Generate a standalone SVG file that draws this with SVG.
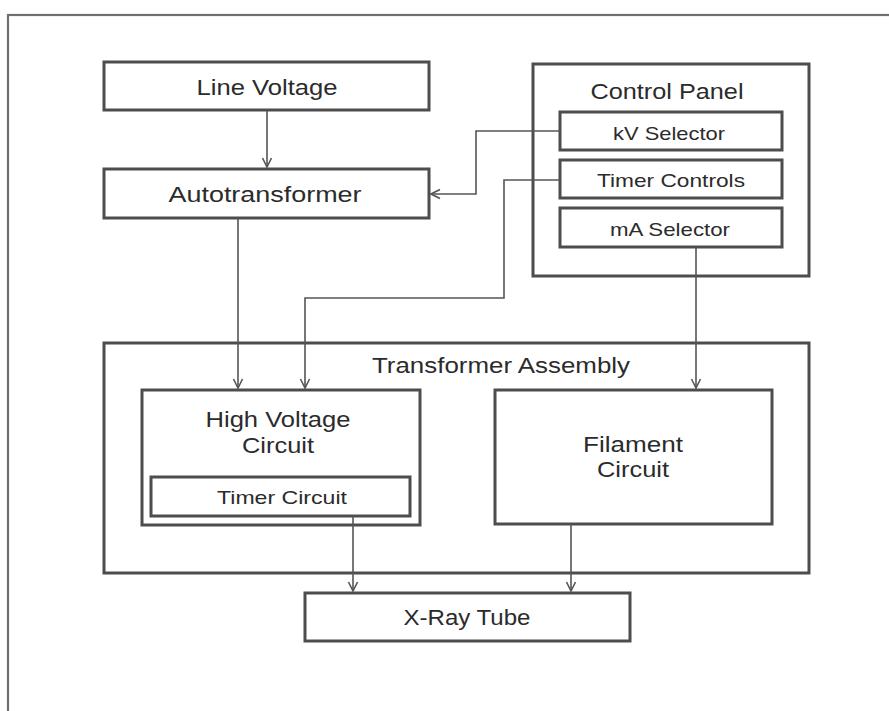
<svg xmlns="http://www.w3.org/2000/svg" width="889" height="711" viewBox="0 0 889 711">
  <defs>
    <style>
      .box { fill: #ffffff; stroke: #4d4d4d; stroke-width: 3; }
      .frame { fill: none; stroke: #707070; stroke-width: 2.2; }
      .conn { fill: none; stroke: #555555; stroke-width: 1.6; marker-end: url(#arr); }
      .lbl { font-family: "Liberation Sans", Arial, sans-serif; font-size: 22px; fill: #2b2b2b; text-anchor: middle; }
      .sm { font-size: 19px; }
    </style>
    <marker id="arr" markerUnits="userSpaceOnUse" markerWidth="12" markerHeight="12" viewBox="0 0 12 12" refX="11" refY="6" orient="auto">
      <polyline points="2,1.5 11,6 2,10.5" fill="none" stroke="#555555" stroke-width="1.6"/>
    </marker>
  </defs>
  <rect x="0" y="0" width="889" height="711" fill="#ffffff"/>
  <rect class="frame" x="8" y="15" width="900" height="720"/>

  <g id="line-voltage">
    <rect class="box" x="104" y="62" width="325" height="48"/>
    <text class="lbl" x="267" y="95" textLength="141" lengthAdjust="spacingAndGlyphs">Line Voltage</text>
  </g>
  <g id="autotransformer">
    <rect class="box" x="104" y="169" width="325" height="49"/>
    <text class="lbl" x="265" y="202" textLength="193" lengthAdjust="spacingAndGlyphs">Autotransformer</text>
  </g>
  <g id="control-panel">
    <rect class="box" x="533" y="64" width="276" height="212"/>
    <text class="lbl" x="667" y="99" textLength="153" lengthAdjust="spacingAndGlyphs">Control Panel</text>
  </g>
  <g id="kv-selector">
    <rect class="box" x="560" y="112" width="222" height="38"/>
    <text class="lbl sm" x="669" y="140" textLength="112" lengthAdjust="spacingAndGlyphs">kV Selector</text>
  </g>
  <g id="timer-controls">
    <rect class="box" x="560" y="160" width="222" height="38"/>
    <text class="lbl sm" x="671" y="187" textLength="148" lengthAdjust="spacingAndGlyphs">Timer Controls</text>
  </g>
  <g id="ma-selector">
    <rect class="box" x="560" y="208" width="222" height="39"/>
    <text class="lbl sm" x="670" y="236" textLength="120" lengthAdjust="spacingAndGlyphs">mA Selector</text>
  </g>
  <g id="transformer-assembly">
    <rect class="box" x="104" y="343" width="705" height="230"/>
    <text class="lbl" x="501" y="373" textLength="258" lengthAdjust="spacingAndGlyphs">Transformer Assembly</text>
  </g>
  <g id="high-voltage-circuit">
    <rect class="box" x="142" y="390" width="278" height="135"/>
    <text class="lbl" x="278" y="427" textLength="145" lengthAdjust="spacingAndGlyphs">High Voltage</text>
    <text class="lbl" x="278" y="453" textLength="72" lengthAdjust="spacingAndGlyphs">Circuit</text>
  </g>
  <g id="timer-circuit">
    <rect class="box" x="151" y="477" width="259" height="39"/>
    <text class="lbl sm" x="282" y="504" textLength="130" lengthAdjust="spacingAndGlyphs">Timer Circuit</text>
  </g>
  <g id="filament-circuit">
    <rect class="box" x="495" y="390" width="277" height="134"/>
    <text class="lbl" x="633" y="452" textLength="100" lengthAdjust="spacingAndGlyphs">Filament</text>
    <text class="lbl" x="633" y="477" textLength="72" lengthAdjust="spacingAndGlyphs">Circuit</text>
  </g>
  <g id="x-ray-tube">
    <rect class="box" x="305" y="593" width="325" height="48"/>
    <text class="lbl" x="467" y="625" textLength="127" lengthAdjust="spacingAndGlyphs">X-Ray Tube</text>
  </g>

  <g id="connectors">
    <path class="conn" d="M267,110 V167"/>
    <path class="conn" d="M560,131 H476 V194 H431"/>
    <path class="conn" d="M560,180 H504 V298 H305 V388"/>
    <path class="conn" d="M238,218 V388"/>
    <path class="conn" d="M696,247 V388"/>
    <path class="conn" d="M353,516 V591"/>
    <path class="conn" d="M571,524 V591"/>
  </g>
</svg>
